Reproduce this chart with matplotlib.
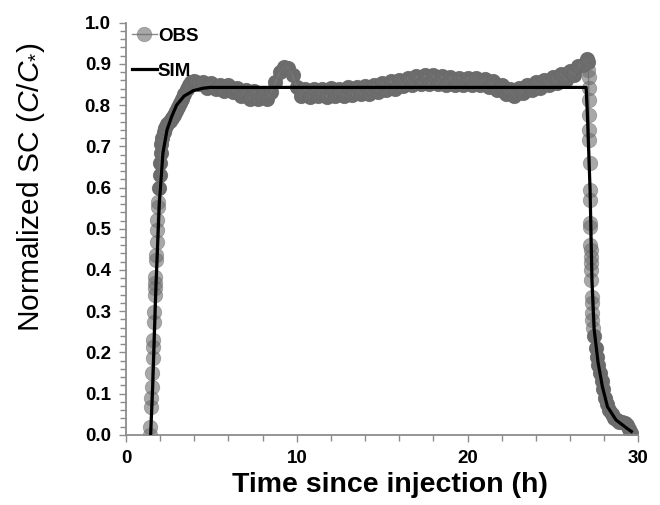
import numpy as np
import matplotlib
matplotlib.use("Agg")
import matplotlib.pyplot as plt
from matplotlib.ticker import MultipleLocator

plt.rcParams['font.family'] = ['Liberation Sans', 'DejaVu Sans']
plt.rcParams['mathtext.fontset'] = 'custom'
plt.rcParams['mathtext.rm'] = 'Liberation Sans'
plt.rcParams['mathtext.it'] = 'Liberation Sans:italic'

obs_t = [1.40, 1.42, 1.45, 1.47, 1.50, 1.52, 1.55, 1.57, 1.59, 1.62, 1.64, 1.67, 1.69, 1.70,
         1.72, 1.75, 1.77, 1.79, 1.81, 1.83, 1.86, 1.88, 1.93, 1.96, 1.99, 2.02, 2.06, 2.12,
         2.20, 2.30, 2.42, 2.55, 2.68, 2.80, 2.92, 3.05, 3.18, 3.30, 3.42, 3.55, 3.68, 3.82,
         3.96, 4.10, 4.25,
         4.50, 4.75, 5.00, 5.25, 5.50, 5.75, 6.00, 6.25, 6.50, 6.75, 7.00, 7.25, 7.50, 7.75,
         8.00, 8.25, 8.50, 8.75, 9.00, 9.25, 9.50, 9.75, 10.00, 10.25, 10.50, 10.75, 11.00,
         11.25, 11.50, 11.75, 12.00, 12.25, 12.50, 12.75, 13.00, 13.25, 13.50, 13.75, 14.00,
         14.25, 14.50, 14.75, 15.00, 15.25, 15.50, 15.75, 16.00, 16.25, 16.50, 16.75, 17.00,
         17.25, 17.50, 17.75, 18.00, 18.25, 18.50, 18.75, 19.00, 19.25, 19.50, 19.75, 20.00,
         20.25, 20.50, 20.75, 21.00, 21.25, 21.50, 21.75, 22.00, 22.25, 22.50, 22.75, 23.00,
         23.25, 23.50, 23.75, 24.00, 24.25, 24.50, 24.75, 25.00, 25.25, 25.50, 25.75, 26.00,
         26.25, 26.50, 26.75, 27.00,
         27.06, 27.08, 27.09, 27.10, 27.11, 27.12, 27.13, 27.14, 27.15, 27.16, 27.17, 27.18,
         27.19, 27.20, 27.21, 27.22, 27.23, 27.24, 27.25, 27.27, 27.28, 27.29, 27.30,
         27.35, 27.42, 27.50, 27.58, 27.66, 27.75, 27.85, 27.95, 28.05, 28.15, 28.30, 28.45,
         28.60, 28.75, 28.90, 29.05, 29.20, 29.35, 29.48, 29.58]
obs_v = [0.000, 0.020, 0.068, 0.090, 0.116, 0.150, 0.187, 0.213, 0.230, 0.274, 0.298, 0.340, 0.357, 0.369,
         0.383, 0.424, 0.437, 0.468, 0.497, 0.521, 0.553, 0.565, 0.600, 0.630, 0.660, 0.685, 0.705, 0.720,
         0.735, 0.745, 0.755, 0.762, 0.768, 0.775, 0.785, 0.795, 0.805, 0.815, 0.828, 0.840, 0.850, 0.856,
         0.858, 0.856, 0.852,
         0.856, 0.842, 0.854, 0.838, 0.850, 0.834, 0.848, 0.832, 0.842, 0.822, 0.836, 0.816, 0.834, 0.814,
         0.830, 0.816, 0.832, 0.855, 0.880, 0.893, 0.890, 0.872, 0.845, 0.822, 0.840, 0.820, 0.840,
         0.822, 0.840, 0.820, 0.842, 0.822, 0.840, 0.822, 0.844, 0.824, 0.844, 0.826, 0.846,
         0.828, 0.850, 0.832, 0.854, 0.836, 0.858, 0.840, 0.862, 0.846, 0.866, 0.850, 0.870,
         0.852, 0.872, 0.852, 0.872, 0.852, 0.870, 0.850, 0.868, 0.850, 0.866, 0.850, 0.866,
         0.848, 0.866, 0.848, 0.864, 0.844, 0.858, 0.836, 0.848, 0.826, 0.838, 0.822, 0.842,
         0.830, 0.850, 0.836, 0.856, 0.842, 0.862, 0.848, 0.868, 0.854, 0.876, 0.862, 0.884,
         0.874, 0.894, 0.898, 0.912,
         0.905, 0.886, 0.868, 0.842, 0.813, 0.777, 0.740, 0.716, 0.660, 0.595, 0.570, 0.515,
         0.505, 0.461, 0.449, 0.432, 0.417, 0.400, 0.376, 0.335, 0.320, 0.296, 0.279,
         0.260, 0.240, 0.210, 0.190, 0.170, 0.150, 0.130, 0.110, 0.090, 0.075, 0.060, 0.050,
         0.040, 0.035, 0.030, 0.030, 0.028, 0.024, 0.014, 0.004]

# simulated curve
sim_t = [1.44, 1.56, 1.75, 1.95, 2.16, 2.40, 2.67, 2.96, 3.40, 3.93, 4.50, 4.90,
         26.95, 27.02, 27.18, 27.29, 27.42, 27.65, 27.90, 28.20, 28.70, 29.30, 29.60]
sim_v = [0.000, 0.117, 0.359, 0.563, 0.684, 0.740, 0.772, 0.800, 0.822, 0.835, 0.841, 0.843,
         0.843, 0.780, 0.595, 0.376, 0.255, 0.175, 0.117, 0.068, 0.036, 0.017, 0.008]

fig = plt.figure(figsize=(6.6, 5.05), dpi=100)
ax = fig.add_axes([0.191, 0.139, 0.776, 0.816])

ax.plot(obs_t, obs_v, color='#8a8a8a', lw=1.0, marker='o', markersize=10.5,
        markerfacecolor=(0.43, 0.43, 0.43, 0.6), markeredgecolor=(0.40, 0.40, 0.40, 0.5),
        markeredgewidth=0.5, label='OBS', zorder=2)
ax.plot(sim_t, sim_v, color='black', lw=2.3, label='SIM', zorder=3)

ax.set_xlim(0, 30)
ax.set_ylim(0, 1.0)
ax.xaxis.set_major_locator(MultipleLocator(10))
ax.xaxis.set_minor_locator(MultipleLocator(2))
ax.yaxis.set_major_locator(MultipleLocator(0.1))
ax.yaxis.set_minor_locator(MultipleLocator(0.02))
ax.set_yticklabels([f'{v:.1f}' for v in ax.get_yticks()])

for side in ['top', 'right']:
    ax.spines[side].set_visible(False)
for side in ['left', 'bottom']:
    ax.spines[side].set_color('#8c8c8c')
    ax.spines[side].set_linewidth(1.3)

ax.tick_params(which='both', direction='out', color='#8c8c8c', width=1.0)
ax.tick_params(which='major', length=5, labelsize=13.5, pad=6)
ax.tick_params(which='minor', length=4)
for lab in ax.get_xticklabels() + ax.get_yticklabels():
    lab.set_fontweight('bold')

ax.set_xlabel('Time since injection (h)', fontsize=20.5, fontweight='bold')
ax.xaxis.set_label_coords(0.515, -0.09)
ax.set_ylabel(r'Normalized SC ($\mathit{C/C}_{*}$)', fontsize=21.5)
ax.yaxis.set_label_coords(-0.155, 0.6)

leg = ax.legend(loc='upper left', bbox_to_anchor=(-0.015, 1.02), frameon=False,
                prop={'size': 13.5, 'weight': 'bold'}, handlelength=1.35,
                handletextpad=0.05, labelspacing=0.95, borderpad=0.2)

# dense parts (upper rise, plateau, lower tail) drawn again underneath, opaque,
# so they read as one grey strip like in the original
band_t = obs_t[22:137] + obs_t[160:]
band_v = obs_v[22:137] + obs_v[160:]
ax.plot(band_t, band_v, color='#6b6b6b', lw=0, marker='o', markersize=10.5,
        markeredgewidth=0, zorder=1.9)

fig.savefig('out.png', dpi=100)
